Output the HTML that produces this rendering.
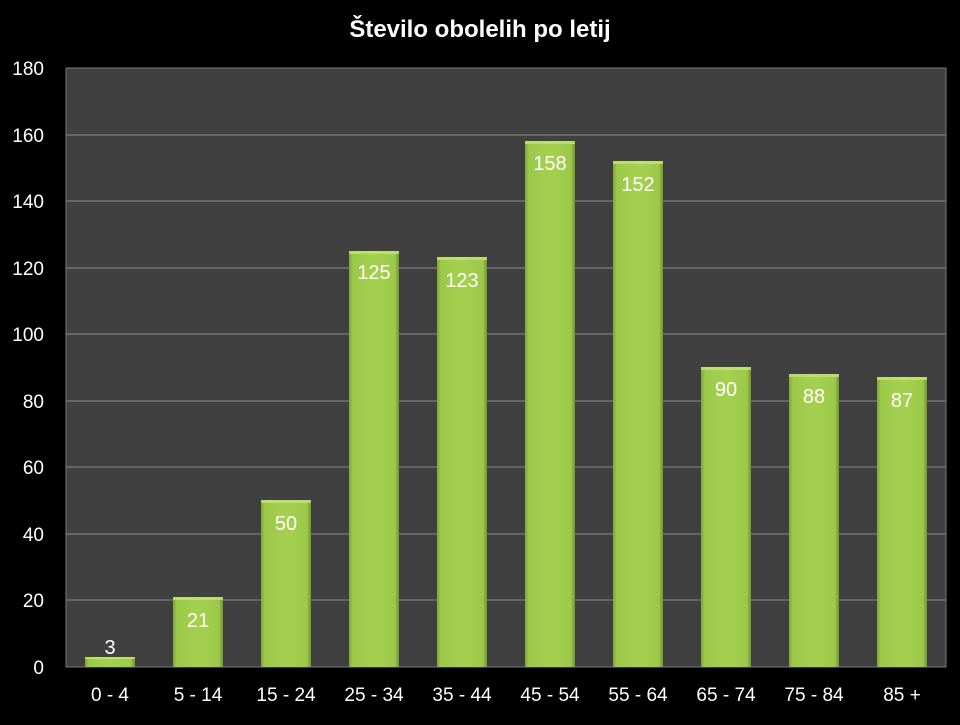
<!DOCTYPE html>
<html><head><style>
body{margin:0;background:#000;width:960px;height:720px;overflow:hidden;font-family:"Liberation Sans",sans-serif}
</style></head><body>
<svg width="960" height="720" xmlns="http://www.w3.org/2000/svg" font-family="Liberation Sans, sans-serif">
<defs>
<linearGradient id="g" x1="0" x2="1" y1="0" y2="0">
<stop offset="0" stop-color="#7fa832"/><stop offset="0.08" stop-color="#9cc94a"/><stop offset="0.5" stop-color="#a6d04f"/><stop offset="0.92" stop-color="#9cc94a"/><stop offset="1" stop-color="#6f9429"/>
</linearGradient>
</defs>
<rect width="960" height="720" fill="#000"/>
<text x="480" y="37" fill="#fff" font-size="24" font-weight="bold" text-anchor="middle">Število obolelih po letij</text>
<rect x="66" y="68" width="880" height="599" fill="#404040" stroke="#777" stroke-width="1"/>
<g stroke="#8a8a8a" stroke-width="1">
<line x1="66" x2="946" y1="135" y2="135"/><line x1="66" x2="946" y1="201" y2="201"/><line x1="66" x2="946" y1="268" y2="268"/><line x1="66" x2="946" y1="334" y2="334"/><line x1="66" x2="946" y1="401" y2="401"/><line x1="66" x2="946" y1="467" y2="467"/><line x1="66" x2="946" y1="534" y2="534"/><line x1="66" x2="946" y1="600" y2="600"/>
</g>
<g fill="#fff" font-size="19" text-anchor="end">
<text x="44" y="75">180</text><text x="44" y="142">160</text><text x="44" y="208">140</text><text x="44" y="275">120</text><text x="44" y="341">100</text><text x="44" y="408">80</text><text x="44" y="474">60</text><text x="44" y="541">40</text><text x="44" y="607">20</text><text x="44" y="674">0</text>
</g>
<g fill="#fff" font-size="19" text-anchor="middle">
<text x="110" y="701">0 - 4</text><text x="198" y="701">5 - 14</text><text x="286" y="701">15 - 24</text><text x="374" y="701">25 - 34</text><text x="462" y="701">35 - 44</text><text x="550" y="701">45 - 54</text><text x="638" y="701">55 - 64</text><text x="726" y="701">65 - 74</text><text x="814" y="701">75 - 84</text><text x="902" y="701">85 +</text>
</g>
<g fill="url(#g)">
<rect x="85" y="657" width="50" height="10"/>
<rect x="173" y="597" width="50" height="70"/>
<rect x="261" y="500" width="50" height="167"/>
<rect x="349" y="251" width="50" height="416"/>
<rect x="437" y="257" width="50" height="410"/>
<rect x="525" y="141" width="50" height="526"/>
<rect x="613" y="161" width="50" height="506"/>
<rect x="701" y="367" width="50" height="300"/>
<rect x="789" y="374" width="50" height="293"/>
<rect x="877" y="377" width="50" height="290"/>
</g>
<g fill="#c3e37a" opacity="0.8">
<rect x="85" y="657" width="50" height="2"/><rect x="173" y="597" width="50" height="3"/><rect x="261" y="500" width="50" height="3"/><rect x="349" y="251" width="50" height="3"/><rect x="437" y="257" width="50" height="3"/><rect x="525" y="141" width="50" height="3"/><rect x="613" y="161" width="50" height="3"/><rect x="701" y="367" width="50" height="3"/><rect x="789" y="374" width="50" height="3"/><rect x="877" y="377" width="50" height="3"/>
</g>
<g fill="#fff" font-size="20" text-anchor="middle">
<text x="110" y="654">3</text><text x="198" y="627">21</text><text x="286" y="530">50</text><text x="374" y="279">125</text><text x="462" y="287">123</text><text x="550" y="170">158</text><text x="638" y="191">152</text><text x="726" y="396">90</text><text x="814" y="403">88</text><text x="902" y="407">87</text>
</g>
</svg>
</body></html>
